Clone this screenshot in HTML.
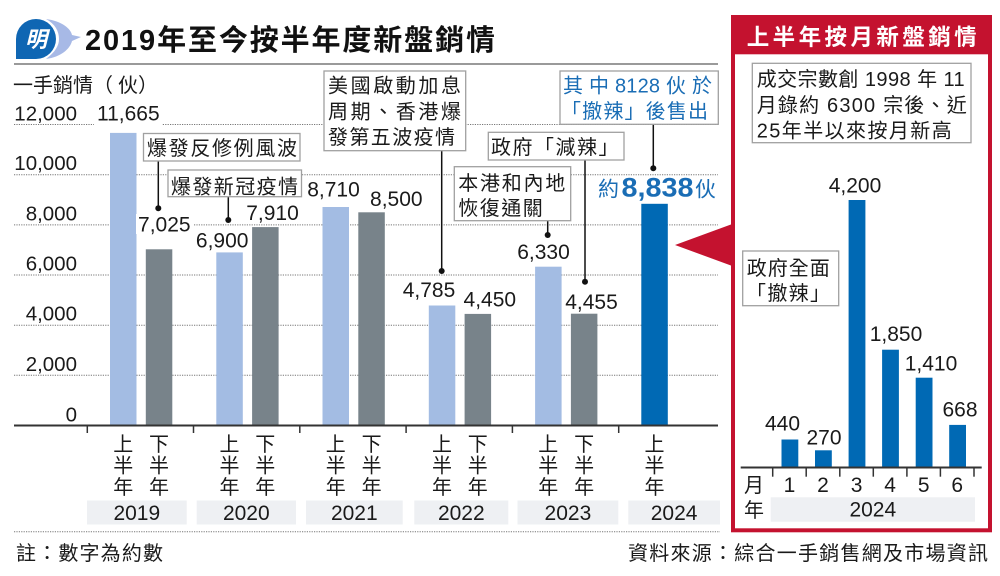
<!DOCTYPE html>
<html>
<head>
<meta charset="utf-8">
<style>
html,body{margin:0;padding:0;background:#fff;}
svg{display:block;}
text{font-family:"Liberation Sans","Noto Sans CJK TC","Noto Sans CJK SC",sans-serif;fill:#1a1a1a;}
</style>
</head>
<body>
<svg width="1000" height="576" viewBox="0 0 1000 576" xmlns="http://www.w3.org/2000/svg">
<rect width="1000" height="576" fill="#fff"/>

<!-- Logo -->
<path d="M46,19 C62,21 71,29 72,35 L81,37 L72,41 C70,49 61,57 46,59 C55,52 59,46 59,39 C59,31 55,24 46,19 Z" fill="#a7b9e6"/>
<path d="M36,19 A20,20 0 1 1 36,59 L16,59 L16,39 A20,20 0 0 1 36,19 Z" fill="#0f66b3"/>
<text x="36" y="47" font-size="22" font-weight="bold" font-style="italic" text-anchor="middle" style="fill:#fff">明</text>

<!-- Title -->
<text x="85" y="50" font-size="29" font-weight="bold" textLength="410" lengthAdjust="spacing" style="fill:#111">2019年至今按半年度新盤銷情</text>
<line x1="14" y1="64" x2="718" y2="64" stroke="#9a9a9a" stroke-width="2"/>

<!-- Y title -->
<text x="13" y="92" font-size="20">一手銷情</text>
<text x="93" y="92" font-size="20">（</text>
<text x="118" y="92" font-size="20">伙</text>
<text x="138" y="92" font-size="20">）</text>

<!-- Gridlines -->
<g stroke="#777" stroke-width="1" stroke-dasharray="1.2,1.2">
<line x1="14" y1="124.5" x2="718" y2="124.5"/>
<line x1="14" y1="174.7" x2="718" y2="174.7"/>
<line x1="14" y1="224.9" x2="718" y2="224.9"/>
<line x1="14" y1="275" x2="718" y2="275"/>
<line x1="14" y1="325.2" x2="718" y2="325.2"/>
<line x1="14" y1="375.3" x2="718" y2="375.3"/>
</g>

<!-- Y labels -->
<g font-size="20.5" text-anchor="end">
<text x="77" y="120.5">12,000</text>
<text x="77" y="170.2">10,000</text>
<text x="77" y="220.5">8,000</text>
<text x="77" y="270.5">6,000</text>
<text x="77" y="320.7">4,000</text>
<text x="77" y="370.8">2,000</text>
<text x="77" y="421.5">0</text>
</g>

<!-- Bars -->
<g>
<rect x="110" y="132.9" width="26.5" height="292.6" fill="#a3bce3"/>
<rect x="145.8" y="249.3" width="26.5" height="176.2" fill="#78838a"/>
<rect x="216.3" y="252.4" width="26.5" height="173.1" fill="#a3bce3"/>
<rect x="252.1" y="227.1" width="26.5" height="198.4" fill="#78838a"/>
<rect x="322.5" y="207.0" width="26.5" height="218.5" fill="#a3bce3"/>
<rect x="358.3" y="212.3" width="26.5" height="213.2" fill="#78838a"/>
<rect x="428.8" y="305.5" width="26.5" height="120.0" fill="#a3bce3"/>
<rect x="464.6" y="313.9" width="26.5" height="111.6" fill="#78838a"/>
<rect x="535.1" y="266.7" width="26.5" height="158.8" fill="#a3bce3"/>
<rect x="570.9" y="313.7" width="26.5" height="111.8" fill="#78838a"/>
<rect x="641.3" y="203.8" width="26.5" height="221.7" fill="#0069b4"/>
</g>

<!-- Axis -->
<line x1="14" y1="425.5" x2="718" y2="425.5" stroke="#333" stroke-width="2"/>
<g stroke="#333" stroke-width="1.5">
<line x1="87.3" y1="425.5" x2="87.3" y2="433"/>
<line x1="193.5" y1="425.5" x2="193.5" y2="433"/>
<line x1="299.8" y1="425.5" x2="299.8" y2="433"/>
<line x1="406.1" y1="425.5" x2="406.1" y2="433"/>
<line x1="512.4" y1="425.5" x2="512.4" y2="433"/>
<line x1="618.7" y1="425.5" x2="618.7" y2="433"/>
</g>

<!-- value label backgrounds -->
<g fill="#fff">
<rect x="94" y="103" width="68" height="24"/>
<rect x="136" y="214" width="57" height="20"/>
<rect x="194" y="231" width="56" height="19"/>
<rect x="244" y="203" width="57" height="19"/>
</g>

<!-- Value labels -->
<g font-size="21" text-anchor="middle">
<text x="128.3" y="120.7">11,665</text>
<text x="164.3" y="231.5">7,025</text>
<text x="222.2" y="247.5">6,900</text>
<text x="272.5" y="220">7,910</text>
<text x="333.5" y="196.7">8,710</text>
<text x="396.3" y="206">8,500</text>
<text x="429" y="297">4,785</text>
<text x="489.8" y="306.5">4,450</text>
<text x="543.5" y="259">6,330</text>
<text x="591.5" y="309">4,455</text>
</g>

<!-- 2024 label -->
<text x="598" y="196.7" font-size="21" style="fill:#1a6db5">約</text>
<text x="621.5" y="196.7" font-size="27" font-weight="bold" textLength="72" lengthAdjust="spacingAndGlyphs" style="fill:#1a6db5">8,838</text>
<text x="695" y="196.7" font-size="21" style="fill:#1a6db5">伙</text>

<!-- Leader lines -->
<g stroke="#111" stroke-width="1.5">
<line x1="158.3" y1="161" x2="158.3" y2="208.3"/>
<line x1="228.3" y1="196.7" x2="228.3" y2="220"/>
<line x1="441.7" y1="150.7" x2="441.7" y2="271"/>
<line x1="547.7" y1="220.7" x2="547.7" y2="235"/>
<line x1="585" y1="160" x2="585" y2="281.7"/>
<line x1="653.3" y1="124.3" x2="653.3" y2="168.3"/>
<line x1="857.7" y1="142.7" x2="857.7" y2="168.3"/>
<line x1="824" y1="305.7" x2="824" y2="417.3"/>
</g>
<g fill="#111">
<circle cx="158.3" cy="208.3" r="3"/>
<circle cx="228.3" cy="220" r="3"/>
<circle cx="441.7" cy="271" r="3"/>
<circle cx="547.7" cy="235" r="3"/>
<circle cx="585" cy="281.7" r="3"/>
<circle cx="653.3" cy="168.3" r="3"/>
<circle cx="857.7" cy="168.3" r="3"/>
<circle cx="824" cy="417.3" r="3"/>
</g>

<!-- Annotation boxes -->
<g fill="#fff" stroke="#a0a0a0" stroke-width="1.3">
<rect x="143.5" y="133.5" width="156.5" height="27.5"/>
<rect x="168" y="170" width="133.5" height="26.7"/>
<rect x="324" y="71" width="141.7" height="79.7"/>
<rect x="454.3" y="166.7" width="116.4" height="54"/>
<rect x="488.3" y="132.3" width="135.7" height="27.7"/>
<rect x="560" y="71" width="158.3" height="53.3"/>
</g>
<g font-size="20">
<text x="147" y="155" textLength="150" lengthAdjust="spacing">爆發反修例風波</text>
<text x="171" y="193.5" textLength="127" lengthAdjust="spacing">爆發新冠疫情</text>
<text x="328" y="92.5" textLength="133" lengthAdjust="spacing">美國啟動加息</text>
<text x="328" y="118.5" textLength="133" lengthAdjust="spacing">周期、香港爆</text>
<text x="328" y="144" textLength="127" lengthAdjust="spacing">發第五波疫情</text>
<text x="458.3" y="190" textLength="107" lengthAdjust="spacing">本港和內地</text>
<text x="458.3" y="215" textLength="84.5" lengthAdjust="spacing">恢復通關</text>
<text x="491" y="154" textLength="127.5" lengthAdjust="spacing">政府「減辣」</text>
<text x="563" y="92.5" textLength="149" lengthAdjust="spacing" style="fill:#1a6db5">其 中 8128 伙 於</text>
<text x="561" y="118" textLength="147" lengthAdjust="spacing" style="fill:#1a6db5">「撤辣」後售出</text>
</g>

<!-- Vertical period labels -->
<g font-size="20" text-anchor="middle">
<text x="123.3" y="451">上</text><text x="123.3" y="472.5">半</text><text x="123.3" y="494">年</text>
<text x="159" y="451">下</text><text x="159" y="472.5">半</text><text x="159" y="494">年</text>
<text x="229.5" y="451">上</text><text x="229.5" y="472.5">半</text><text x="229.5" y="494">年</text>
<text x="265.3" y="451">下</text><text x="265.3" y="472.5">半</text><text x="265.3" y="494">年</text>
<text x="335.8" y="451">上</text><text x="335.8" y="472.5">半</text><text x="335.8" y="494">年</text>
<text x="371.6" y="451">下</text><text x="371.6" y="472.5">半</text><text x="371.6" y="494">年</text>
<text x="442" y="451">上</text><text x="442" y="472.5">半</text><text x="442" y="494">年</text>
<text x="477.8" y="451">下</text><text x="477.8" y="472.5">半</text><text x="477.8" y="494">年</text>
<text x="548.3" y="451">上</text><text x="548.3" y="472.5">半</text><text x="548.3" y="494">年</text>
<text x="584.1" y="451">下</text><text x="584.1" y="472.5">半</text><text x="584.1" y="494">年</text>
<text x="654.5" y="451">上</text><text x="654.5" y="472.5">半</text><text x="654.5" y="494">年</text>
</g>

<!-- Year boxes -->
<g fill="#eef0f3">
<rect x="87" y="500.5" width="99.7" height="24"/>
<rect x="196.7" y="500.5" width="99.3" height="24"/>
<rect x="306" y="500.5" width="96.7" height="24"/>
<rect x="414.3" y="500.5" width="94" height="24"/>
<rect x="517.5" y="500.5" width="100.8" height="24"/>
<rect x="628.3" y="500.5" width="91.7" height="24"/>
</g>
<g font-size="21" text-anchor="middle">
<text x="136.8" y="520">2019</text>
<text x="246.3" y="520">2020</text>
<text x="354.3" y="520">2021</text>
<text x="461.3" y="520">2022</text>
<text x="567.9" y="520">2023</text>
<text x="674.1" y="520">2024</text>
</g>

<line x1="14" y1="531.7" x2="720" y2="531.7" stroke="#777" stroke-width="1" stroke-dasharray="1.2,1.2"/>

<!-- Footnotes -->
<text x="16" y="560" font-size="20" textLength="147" lengthAdjust="spacing">註：數字為約數</text>
<text x="628" y="560" font-size="20" textLength="360" lengthAdjust="spacing">資料來源：綜合一手銷售網及市場資訊</text>

<!-- Red pointer -->
<polygon points="675,245 735,223 735,267" fill="#c4122f"/>

<!-- Right panel -->
<rect x="733" y="17" width="257" height="513.3" fill="#fff" stroke="#c4122f" stroke-width="4"/>
<rect x="731" y="15" width="261" height="39.3" fill="#c4122f"/>
<text x="746.7" y="45" font-size="22.5" font-weight="bold" textLength="230" lengthAdjust="spacing" style="fill:#fff">上半年按月新盤銷情</text>

<rect x="752.3" y="63.3" width="218.7" height="79.4" fill="#fff" stroke="#a0a0a0" stroke-width="1.3"/>
<g font-size="20">
<text x="756.7" y="86" textLength="208" lengthAdjust="spacing">成交宗數創 1998 年 11</text>
<text x="756.7" y="112" textLength="210" lengthAdjust="spacing">月錄約 6300 宗後、近</text>
<text x="756.7" y="137.5" textLength="195" lengthAdjust="spacing">25年半以來按月新高</text>
</g>

<rect x="742.7" y="251" width="96" height="54.7" fill="#fff" stroke="#a0a0a0" stroke-width="1.3"/>
<g font-size="20">
<text x="746.7" y="275" textLength="83" lengthAdjust="spacing">政府全面</text>
<text x="746" y="300" textLength="84" lengthAdjust="spacing">「撤辣」</text>
</g>

<!-- Right bars -->
<g fill="#0069b4">
<rect x="781.5" y="439.5" width="16.8" height="28"/>
<rect x="815" y="450.3" width="16.8" height="17.2"/>
<rect x="848.6" y="200" width="16.8" height="267.5"/>
<rect x="882.1" y="349.7" width="16.8" height="117.8"/>
<rect x="915.7" y="377.7" width="16.8" height="89.8"/>
<rect x="949.2" y="424.9" width="16.8" height="42.6"/>
</g>
<g font-size="21" text-anchor="middle">
<text x="782.5" y="430.5">440</text>
<text x="824" y="444.3">270</text>
<text x="855" y="192.5">4,200</text>
<text x="896" y="341">1,850</text>
<text x="931" y="370.7">1,410</text>
<text x="960" y="416.7">668</text>
</g>

<line x1="740.7" y1="467.5" x2="981.7" y2="467.5" stroke="#333" stroke-width="2"/>
<g stroke="#333" stroke-width="1.5">
<line x1="772.7" y1="467.5" x2="772.7" y2="476.7"/>
<line x1="806.2" y1="467.5" x2="806.2" y2="476.7"/>
<line x1="839.8" y1="467.5" x2="839.8" y2="476.7"/>
<line x1="873.3" y1="467.5" x2="873.3" y2="476.7"/>
<line x1="906.9" y1="467.5" x2="906.9" y2="476.7"/>
<line x1="940.4" y1="467.5" x2="940.4" y2="476.7"/>
<line x1="974" y1="467.5" x2="974" y2="476.7"/>
</g>
<g font-size="21" text-anchor="middle">
<text x="789.5" y="492">1</text>
<text x="823" y="492">2</text>
<text x="856.6" y="492">3</text>
<text x="890.1" y="492">4</text>
<text x="923.7" y="492">5</text>
<text x="957.2" y="492">6</text>
</g>
<text x="744" y="492" font-size="20">月</text>
<text x="744" y="517" font-size="20">年</text>
<rect x="770.7" y="497.3" width="204.3" height="24.4" fill="#eef0f3"/>
<text x="872.8" y="516.7" font-size="21" text-anchor="middle">2024</text>

</svg>
</body>
</html>
